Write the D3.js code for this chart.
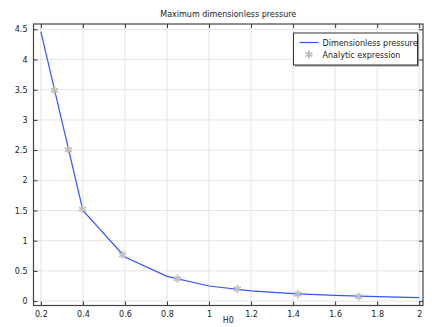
<!DOCTYPE html>
<html><head><meta charset="utf-8">
<script src="https://cdn.jsdelivr.net/npm/d3@7"></script>
<style>body{margin:0;background:#fff}svg{display:block}text{font-family:"DejaVu Sans",sans-serif;fill:#222}</style>
</head><body>
<svg id="c" width="432" height="327"></svg>
<script>
const lineX = [0.2, 0.4, 0.6, 0.8, 1.0, 1.2, 1.4, 1.6, 1.8, 2.0];
const lineY = [4.46, 1.5, 0.73, 0.41, 0.25, 0.17, 0.125, 0.095, 0.073, 0.057];
const markX = [0.265, 0.331, 0.398, 0.588, 0.85, 1.135, 1.422, 1.712];
const markY = [3.49, 2.505, 1.52, 0.767, 0.37, 0.2, 0.115, 0.077];
const xTicks = [0.2, 0.4, 0.6, 0.8, 1, 1.2, 1.4, 1.6, 1.8, 2];
const yTicks = [0, 0.5, 1, 1.5, 2, 2.5, 3, 3.5, 4, 4.5];
const title = "Maximum dimensionless pressure";
const xLabel = "H0";
const legendNames = ["Dimensionless pressure", "Analytic expression"];

const L = 33.5, R = 423, T = 24, B = 305.5;
const svg = d3.select("#c");
const x = d3.scaleLinear().domain([0.165, 2.018]).range([L, R]);
const y = d3.scaleLinear().domain([-0.073, 4.588]).range([B, T]);

// grid
const g = svg.append("g");
g.selectAll(".gx").data(xTicks).join("line")
  .attr("x1", d => x(d)).attr("x2", d => x(d)).attr("y1", T).attr("y2", B)
  .attr("stroke", "#e4e4e4").attr("stroke-width", 1);
g.selectAll(".gy").data(yTicks).join("line")
  .attr("y1", d => y(d)).attr("y2", d => y(d)).attr("x1", L).attr("x2", R)
  .attr("stroke", "#e4e4e4").attr("stroke-width", 1);

// line
const pts = lineX.map((v, i) => [v, lineY[i]]);
svg.append("path").datum(pts)
  .attr("d", d3.line().x(d => x(d[0])).y(d => y(d[1])))
  .attr("fill", "none").attr("stroke", "#3355ff").attr("stroke-width", 1.2);

// markers
const star = d3.symbol().type(d3.symbolAsterisk).size(45);
svg.selectAll(".m").data(markX.map((v, i) => [v, markY[i]])).join("path")
  .attr("d", star).attr("transform", d => `translate(${x(d[0])},${y(d[1])})`)
  .attr("fill", "none").attr("stroke", "#bdbdbd").attr("stroke-width", 1.8);

// axes
const axB = d3.axisBottom(x).tickValues(xTicks).tickSize(-4).tickPadding(6).tickFormat(d3.format("~g"));
const axT = d3.axisTop(x).tickValues(xTicks).tickSize(-4).tickFormat("");
const axL = d3.axisLeft(y).tickValues(yTicks).tickSize(-4).tickPadding(6).tickFormat(d3.format("~g"));
const axR = d3.axisRight(y).tickValues(yTicks).tickSize(-4).tickFormat("");
function style(sel) {
  sel.select(".domain").remove();
  sel.selectAll(".tick line").attr("stroke", "#333");
  sel.selectAll(".tick text").style("font-size", "8px").style("font-family", "DejaVu Sans").attr("fill", "#222");
}
svg.append("g").attr("transform", `translate(0,${B})`).call(axB).call(style);
svg.append("g").attr("transform", `translate(0,${T})`).call(axT).call(style);
svg.append("g").attr("transform", `translate(${L},0)`).call(axL).call(style);
svg.append("g").attr("transform", `translate(${R},0)`).call(axR).call(style);
svg.append("rect").attr("x", L).attr("y", T).attr("width", R - L).attr("height", B - T)
  .attr("fill", "none").attr("stroke", "#444").attr("stroke-width", 1.2);

// title & label
svg.append("text").attr("x", (L + R) / 2).attr("y", 17).attr("text-anchor", "middle")
  .style("font-size", "8px").text(title);
svg.append("text").attr("x", (L + R) / 2).attr("y", 323).attr("text-anchor", "middle")
  .style("font-size", "8px").text(xLabel);

// legend
const lg = svg.append("g").attr("transform", "translate(293.5,33)");
lg.append("rect").attr("x", 1.5).attr("y", 1.5).attr("width", 124).attr("height", 32).attr("fill", "#999");
lg.append("rect").attr("width", 124).attr("height", 32).attr("fill", "#fff").attr("stroke", "#333").attr("stroke-width", 1);
lg.append("line").attr("x1", 6).attr("x2", 25).attr("y1", 9.5).attr("y2", 9.5).attr("stroke", "#3355ff").attr("stroke-width", 1.2);
lg.append("path").attr("d", star).attr("transform", "translate(15.5,21.5)").attr("fill", "none").attr("stroke", "#bdbdbd").attr("stroke-width", 1.8);
lg.selectAll(".lt").data(legendNames).join("text")
  .attr("x", 29).attr("y", (d, i) => 12.5 + i * 12).style("font-size", "8px").text(d => d);
</script>
</body></html>
